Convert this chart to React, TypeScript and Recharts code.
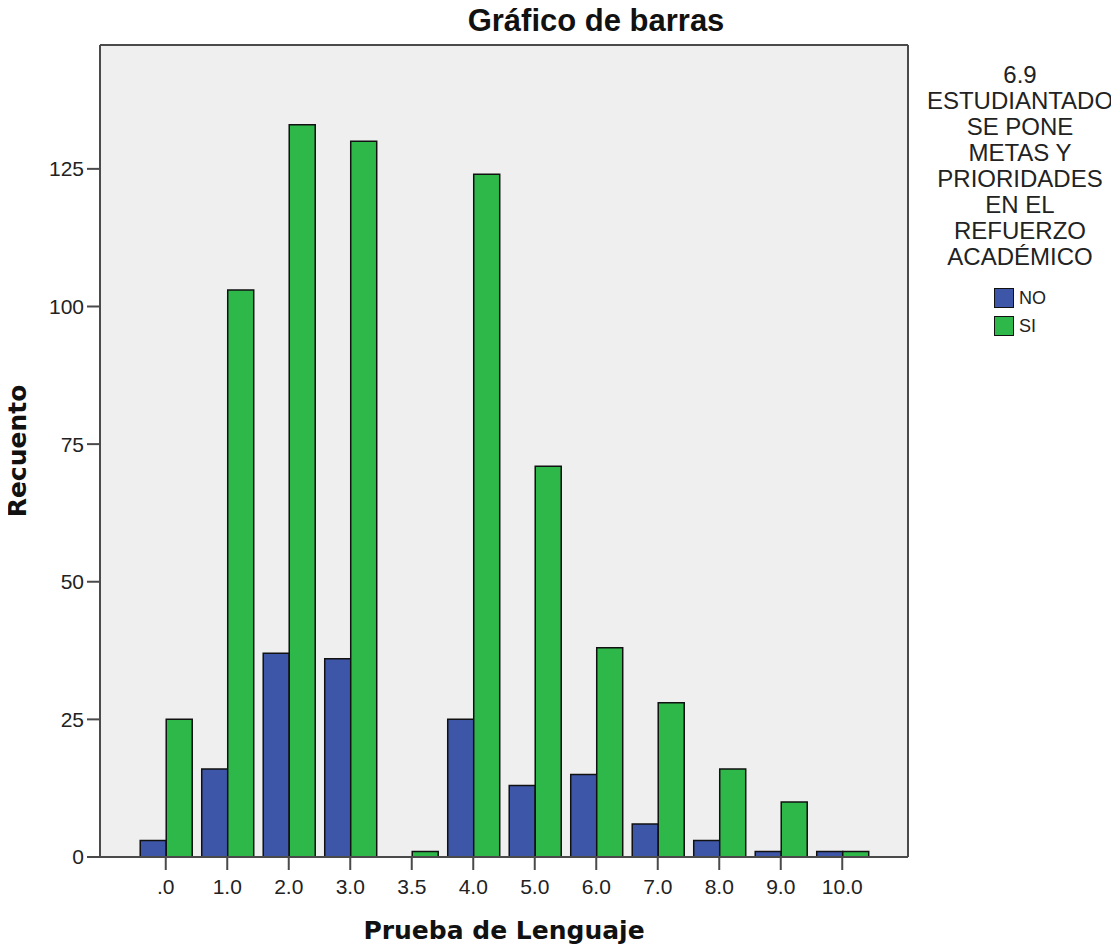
import React from 'react';
import { BarChart, Bar, XAxis, YAxis, CartesianGrid, Legend, Label } from 'recharts';

const categories = ['.0', '1.0', '2.0', '3.0', '3.5', '4.0', '5.0', '6.0', '7.0', '8.0', '9.0', '10.0'];
const noValues = [3, 16, 37, 36, 0, 25, 13, 15, 6, 3, 1, 1];
const siValues = [25, 103, 133, 130, 1, 124, 71, 38, 28, 16, 10, 1];
const yTicks = [0, 25, 50, 75, 100, 125];
const legendTitle = ['6.9', 'ESTUDIANTADO', 'SE PONE', 'METAS Y', 'PRIORIDADES', 'EN EL', 'REFUERZO', 'ACADÉMICO'];

const data = categories.map((cat, i) => ({ cat, NO: noValues[i], SI: siValues[i] }));

const BLUE = '#3e56a8';
const GREEN = '#2eb84a';
const FRAME = '#4a4a4a';
const SANS = '"Liberation Sans", Arial, sans-serif';
const BOLD_AXIS = { fontFamily: '"DejaVu Sans", Verdana, sans-serif', fontWeight: 'bold', fontSize: 25, fill: '#111' };

// frame lines on the plot edges (SPSS-style box)
const frameRows = ({ offset }: any) => [offset.top, offset.top + offset.height];
const frameCols = ({ offset }: any) => [offset.left, offset.left + offset.width];

const renderLegend = (props: any) => {
    const { payload } = props;
    return (
        <div style={{ display: 'flex', flexDirection: 'column', alignItems: 'center', fontFamily: SANS, color: '#222' }}>
            <div style={{ fontSize: 24, lineHeight: '26px', textAlign: 'center', whiteSpace: 'nowrap' }}>
                {legendTitle.map(line => <div key={line}>{line}</div>)}
            </div>
            <div style={{ marginTop: 14 }}>
                {payload.map((entry: any) => (
                    <div key={entry.value} style={{ display: 'flex', alignItems: 'center', height: 28 }}>
                        <span style={{ display: 'block', width: 20, height: 20, background: entry.color, border: '1.5px solid #111', boxSizing: 'border-box', marginRight: 5 }} />
                        <span style={{ fontSize: 18 }}>{entry.value}</span>
                    </div>
                ))}
            </div>
        </div>
    );
};

const App: React.FC = () => {
    return (
        <div style={{ position: 'relative', width: 1111, height: 938, fontFamily: SANS }}>
            <BarChart width={1111} height={938} data={data} margin={{ top: 37, right: 211, bottom: 0, left: 0 }} barCategoryGap="8.5%" barGap={0}>
                <CartesianGrid
                    fill="#efefef"
                    stroke={FRAME}
                    strokeWidth={2}
                    horizontalCoordinatesGenerator={frameRows}
                    verticalCoordinatesGenerator={frameCols}
                />
                <XAxis
                    dataKey="cat"
                    padding={{ left: 35, right: 35 }}
                    interval={0}
                    height={89}
                    tickSize={13}
                    tickMargin={9}
                    axisLine={{ stroke: FRAME, strokeWidth: 2 }}
                    tickLine={{ stroke: FRAME, strokeWidth: 2 }}
                    tick={{ fill: '#222', fontSize: 21, fontFamily: SANS }}
                >
                    <Label value="Prueba de Lenguaje" position="insideBottom" offset={7} style={BOLD_AXIS} />
                </XAxis>
                <YAxis
                    domain={[0, 147.5]}
                    ticks={yTicks}
                    interval={0}
                    width={92}
                    tickSize={13}
                    tickMargin={3}
                    axisLine={{ stroke: FRAME, strokeWidth: 2 }}
                    tickLine={{ stroke: FRAME, strokeWidth: 2 }}
                    tick={{ fill: '#222', fontSize: 21, fontFamily: SANS }}
                >
                    <Label value="Recuento" angle={-90} position="insideLeft" offset={9} style={{ ...BOLD_AXIS, textAnchor: 'middle' }} />
                </YAxis>
                <Legend
                    layout="vertical"
                    align="center"
                    verticalAlign="middle"
                    content={renderLegend}
                    wrapperStyle={{ left: 912, top: 54, width: 200 }}
                />
                <Bar dataKey="NO" name="NO" fill={BLUE} stroke="#111" strokeWidth={1.5} isAnimationActive={false} />
                <Bar dataKey="SI" name="SI" fill={GREEN} stroke="#111" strokeWidth={1.5} isAnimationActive={false} />
            </BarChart>
            <div style={{ position: 'absolute', left: 388, top: -3, width: 400, textAlign: 'center', fontFamily: SANS, fontWeight: 'bold', fontSize: 31, lineHeight: '31px', color: '#111' }}>
                Gráfico de barras
            </div>
        </div>
    );
};

export default App;
